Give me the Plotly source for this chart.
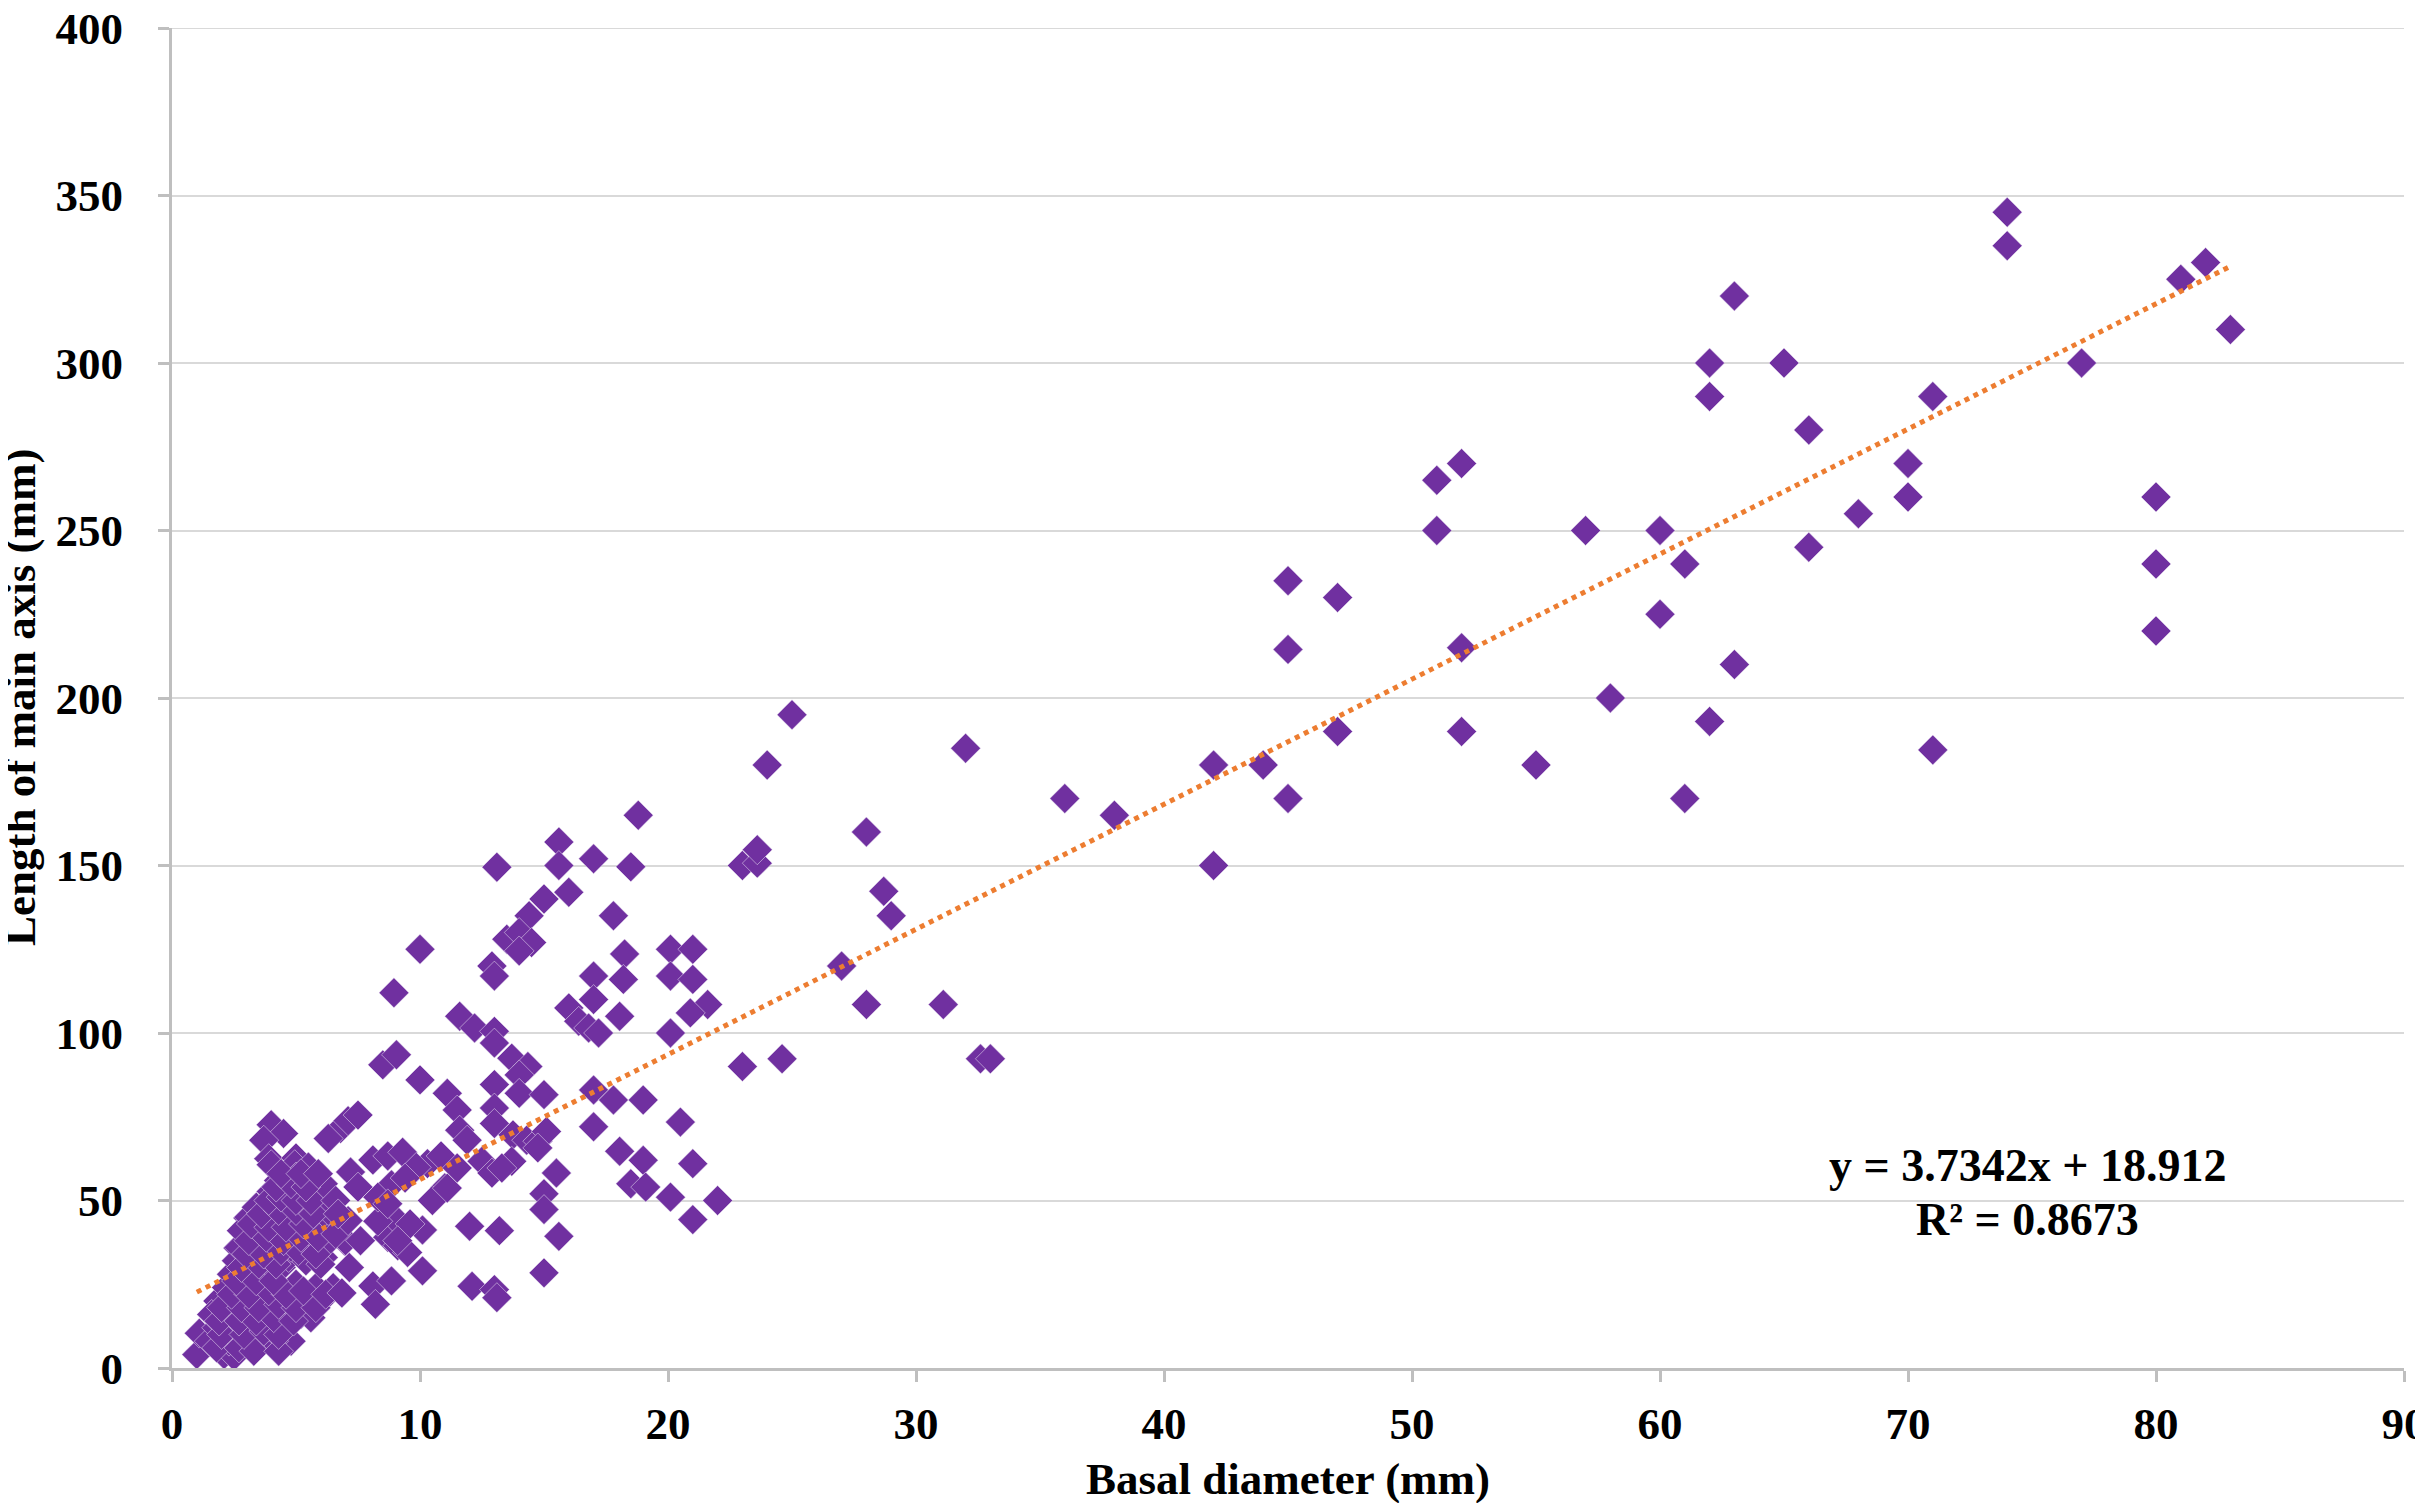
import plotly.graph_objects as go

# ---- data ----
# sparse points (basal diameter > 22 mm)
x_large = [23, 23.6, 23.6, 24, 25, 23, 24.6, 27, 28, 28, 28.7, 29, 31.1, 32, 32.6, 33,
           36, 38, 42, 42, 44, 45, 45, 45, 47, 47, 51, 51, 52, 52, 52, 55, 57, 58,
           60, 60, 61, 61, 62, 62, 62, 63, 63, 65, 66, 66, 68, 70, 70, 71, 71, 74, 74,
           77, 80, 80, 80, 81, 82, 83]
y_large = [150, 150.7, 154.7, 180, 195, 90, 92.3, 120, 160, 108.5, 142.3, 135, 108.5, 185, 92.3, 92.3,
           170, 165, 180, 150, 180, 235, 214.5, 170, 230, 190, 265, 250, 270, 215, 190, 180, 250, 200,
           250, 225, 240, 170, 300, 290, 193, 320, 210, 300, 280, 245, 255, 270, 260, 290, 184.5, 345, 335,
           300, 260, 240, 220, 325, 330, 310]

# medium points (11 - 22 mm)
x_mid = [18.8, 15.6, 13.1, 15.6, 17.0, 18.5, 16.0, 15.0, 14.4, 17.8, 13.5, 14.0, 14.5, 14.0,
         12.9, 13.0, 18.25, 17.0, 18.2, 17.0, 20.1, 21.0, 20.1, 21.0, 21.6, 20.9, 20.1,
         16.0, 16.4, 16.8, 17.2, 18.05, 11.6, 12.2, 13.0, 13.0, 13.7, 14.35, 14.0,
         13.0, 14.0, 15.0, 17.0, 17.8, 19.0, 11.1, 11.5, 13.0, 13.0, 11.6, 11.9,
         13.75, 14.3, 14.75, 15.1, 14.75, 12.5, 12.9, 13.7, 13.3, 11.5, 11.1,
         17.0, 18.05, 19.0, 18.5, 19.1, 20.5, 21.0, 20.1, 22.0, 21.0,
         15.5, 15.0, 15.0, 15.6, 12.0, 13.2, 15.0, 12.1, 13.0, 13.1]
y_mid = [165, 157, 149.5, 150, 152, 149.6, 142, 140, 135, 135, 128, 130, 127, 124.5,
         120, 117, 123.6, 117, 116, 110, 125, 125, 117, 116, 108.5, 106, 100,
         107.5, 103.5, 101.5, 100, 105, 105, 101.5, 100.5, 97, 92.5, 90, 87.5,
         84.6, 82, 81.6, 83, 80, 80, 82, 77, 77.6, 73, 71, 68,
         69.6, 68, 67.7, 70.6, 65.7, 61.7, 58.2, 61.7, 59.7, 59.7, 53.7,
         72, 64.7, 62, 55, 54, 73.4, 61, 51, 50, 44.3,
         58.2, 52, 47.3, 39.3, 42.3, 41, 28.4, 24.4, 23.4, 21]

# small points (6 - 11 mm)
x_small = [10.0, 8.95, 8.5, 9.05, 10.0, 10.3, 10.85, 11.0, 10.5, 10.1, 10.1,
           8.7, 9.1, 9.5, 8.1, 8.2, 7.15, 6.85, 8.1, 8.7, 9.3, 9.85,
           7.2, 6.8, 7.1, 7.5, 6.3, 8.85, 9.1, 9.6, 8.3, 8.85, 9.4,
           6.6, 7.6, 7.1, 8.3, 7.5, 8.7, 9.1, 6.6, 6.7]
y_small = [125, 112, 90.5, 93.5, 86, 61, 63.3, 53.8, 50, 41.2, 29,
           39, 36.5, 34.5, 24.5, 19, 30, 22.4, 62.1, 63.3, 64.4, 59.9,
           58.5, 71.5, 73.8, 75.5, 68.5, 26, 43.8, 43, 43.8, 54.7, 56.7,
           40, 38, 44, 51, 54, 49, 38, 50, 46]

# dense cluster (1 - 7 mm)
x_dense = [4.0, 4.5, 3.7, 3.9, 5.0, 6.0, 5.75, 4.95, 4.0, 4.0, 3.06, 2.66, 1.85,
           6.4, 6.16, 6.96, 4.8, 1.0, 1.1, 2.1, 2.5,
           1.5, 2.3, 3.0, 3.6, 4.1,
           1.8, 2.6, 3.3, 4.0, 4.5,
           1.6, 2.3, 3.0, 3.7, 4.4, 5.2, 5.6,
           2.6, 3.3, 4.0, 4.7, 5.4, 6.0,
           2.2, 2.9, 3.6, 4.3, 5.0, 5.8, 6.5,
           2.4, 3.1, 3.8, 4.4,
           2.6, 3.3, 4.0, 4.7, 5.4, 6.1,
           2.7, 3.4, 4.1, 4.8, 5.5, 6.2, 7.0,
           2.8, 3.5, 4.2, 4.9, 5.6, 6.1,
           3.1, 3.8, 4.5, 5.2, 5.8,
           3.4, 4.0, 4.7, 5.4, 6.3,
           4.6, 5.2, 5.8, 4.3, 5.0, 5.6, 6.1, 5.5]
y_dense = [72.6, 70, 68, 62.5, 62.7, 54.7, 51.7, 60.7, 60.7, 52.7, 44.8, 35.8, 20,
           46.8, 36.8, 37.9, 8, 4, 10.4, 4, 3.6,
           8, 8, 8, 9, 8,
           12, 12, 12, 12, 13,
           16, 16, 16, 16, 17, 16, 15,
           20, 20, 21, 20, 21, 20,
           24, 25, 24, 24, 25, 24, 24,
           28, 29, 28, 30,
           32, 32, 33, 33, 32, 33,
           36, 36, 37, 36, 37, 37, 38,
           41, 40, 40, 41, 40, 42,
           45, 44, 44, 45, 44,
           48, 49, 48, 49, 47,
           52, 52, 52, 56, 57, 56, 55, 60]

# more of the dense cluster (rows in between)
x_dense2 = [1.8, 2.7, 3.3, 4.3,
            2.0, 2.9, 3.7, 4.3,
            1.9, 2.7, 3.4, 4.1, 4.9,
            2.0, 2.8, 3.5, 4.3, 5.0, 5.8,
            2.4, 3.1, 3.9, 4.6, 5.3, 6.2,
            2.6, 3.4, 4.1,
            2.8, 3.5, 4.2, 6.0,
            3.0, 3.7, 4.4, 5.1, 5.8,
            3.1, 3.8, 4.5, 5.2, 5.9,
            3.2, 3.9, 4.6, 5.3,
            3.6, 4.3, 5.0, 5.7,
            3.9, 4.4, 5.0, 5.6,
            4.2, 4.8, 5.4,
            4.4, 5.2, 5.9]
y_dense2 = [6, 6, 5, 5,
            10, 10, 11, 10,
            14, 14, 14, 15, 14,
            18, 18, 18, 19, 18, 18,
            22, 22, 23, 22, 23, 22,
            26, 26, 26,
            30, 31, 31, 31,
            34, 34, 35, 35, 34,
            38, 39, 38, 39, 39,
            43, 42, 42, 43,
            46, 47, 47, 46,
            50, 51, 50, 50,
            54, 55, 54,
            58, 58, 58]

# trend line parameters as printed on the chart
slope = 3.7342
intercept = 18.912
r_squared = 0.8673

x_ticks = [0, 10, 20, 30, 40, 50, 60, 70, 80, 90]
y_ticks = [0, 50, 100, 150, 200, 250, 300, 350, 400]

# ---- build ----
xs = x_dense + x_dense2 + x_small + x_mid + x_large
ys = y_dense + y_dense2 + y_small + y_mid + y_large

FONT = "Liberation Serif"
PURPLE = "#7030A0"
ORANGE = "#ED7D31"
W, H = 2423, 1503
L, R, T, B = 164, 27, 20, 143

fig = go.Figure()
fig.add_trace(go.Scatter(
    x=xs, y=ys, mode="markers",
    marker=dict(symbol="diamond", size=23, color=PURPLE,
                line=dict(width=0.5, color="#f3eef8")),
    showlegend=False, hoverinfo="skip", cliponaxis=False))

tx = [min(xs), max(xs)]
ty = [slope * v + intercept for v in tx]
fig.add_trace(go.Scatter(
    x=tx, y=ty, mode="lines",
    line=dict(color=ORANGE, width=5, dash="5px,5px"),
    showlegend=False, hoverinfo="skip"))

fig.add_annotation(x=74.8, y=60.5, xref="x", yref="y",
                   text=f"y = {slope}x + {intercept}", showarrow=False,
                   font=dict(family=FONT, size=46, color="black", weight="bold"))
fig.add_annotation(x=74.8, y=44.2, xref="x", yref="y",
                   text=f"R² = {r_squared}", showarrow=False,
                   font=dict(family=FONT, size=46, color="black", weight="bold"))

# axis titles
fig.add_annotation(x=0, y=0.5, xref="paper", yref="paper", xshift=-(L - 12),
                   xanchor="center", yanchor="middle",
                   text="Length of main axis (mm)", textangle=-90, showarrow=False,
                   font=dict(family=FONT, size=45, color="black", weight="bold"))
fig.add_annotation(x=0.5, y=0, xref="paper", yref="paper", yshift=-111,
                   xanchor="center", yanchor="middle",
                   text="Basal diameter (mm)", showarrow=False,
                   font=dict(family=FONT, size=45, color="black", weight="bold"))

axis_common = dict(
    showline=True, linecolor="#bfbfbf", linewidth=3,
    ticks="outside", ticklen=11, tickwidth=3, tickcolor="#bfbfbf",
    zeroline=False, ticklabeloverflow="allow",
    tickfont=dict(family=FONT, size=45, color="black", weight="bold"),
)

fig.update_layout(
    width=W, height=H,
    margin=dict(l=L, r=R, t=T, b=B, autoexpand=False),
    paper_bgcolor="white", plot_bgcolor="white",
    font=dict(family=FONT, color="black"),
    xaxis=dict(range=[0, 90], tickvals=x_ticks, showgrid=False,
               ticklabelstandoff=3, **axis_common),
    yaxis=dict(range=[0, 400], tickvals=y_ticks, showgrid=True,
               gridcolor="#d9d9d9", gridwidth=2,
               ticklabelstandoff=26, **axis_common),
)
# top gridline at the upper end of the value axis
fig.add_shape(type="line", xref="paper", yref="y", x0=0, x1=1,
              y0=y_ticks[-1], y1=y_ticks[-1], line=dict(color="#d9d9d9", width=2),
              layer="below")

fig.write_html("out.html")
